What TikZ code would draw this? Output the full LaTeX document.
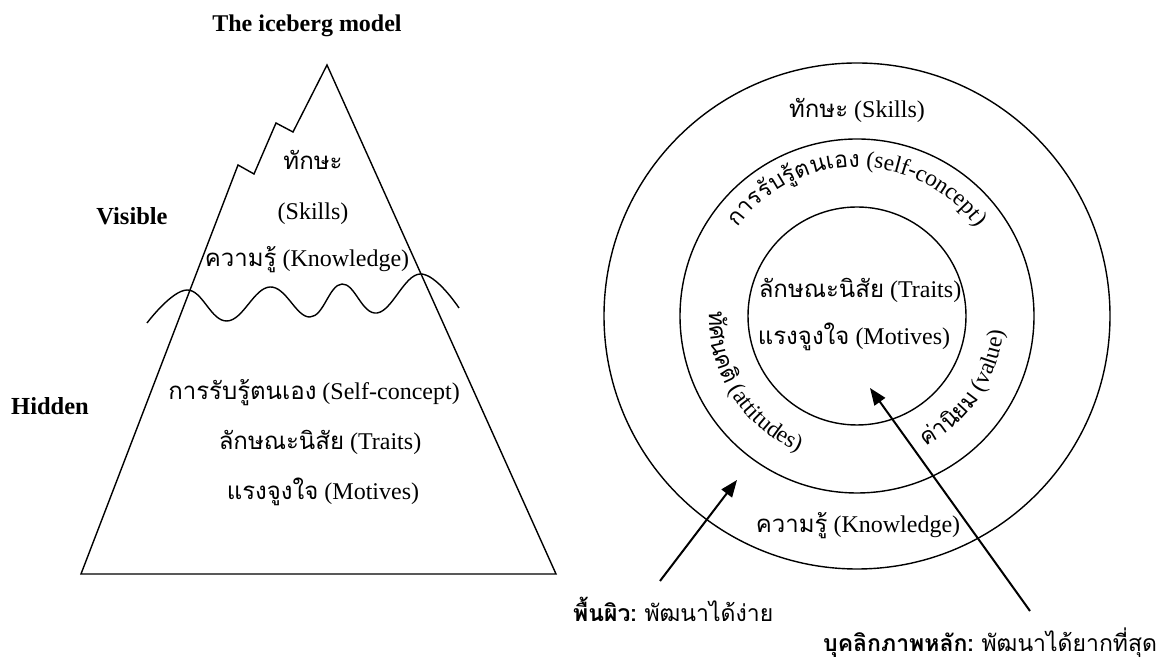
\documentclass[tikz,border=0pt]{standalone}
\usepackage{fontspec}
\setmainfont{Liberation Serif}
\newfontfamily\thai[Script=Thai]{Loma}
\usetikzlibrary{decorations.text, arrows.meta}

% font switches for the curved ring labels
\newcommand\curvethai{\thai\fontsize{23}{27}\selectfont}
\newcommand\curvelatin{\rmfamily\fontsize{23.5}{27}\selectfont}

\begin{document}
\begin{tikzpicture}[x=1pt, y=1pt,
  outline/.style={line width=1.4pt, line join=miter},
  ring/.style={circle, draw, line width=1.4pt, inner sep=0pt},
  lbl/.style={inner sep=0pt, font=\fontsize{24}{28}\selectfont},
  head/.style={inner sep=0pt, font=\bfseries\fontsize{24.5}{28}\selectfont},
  foot/.style={inner sep=0pt, font=\fontsize{23}{27}\selectfont},
  pointer/.style={line width=2pt, -{Triangle[length=17pt, width=13pt]}},
]
\useasboundingbox (0,0) rectangle (1165,663);

% ---------------- iceberg ----------------
\node[head, font=\bfseries\fontsize{24}{28}\selectfont, anchor=base] (title) at (307,631) {The iceberg model};
\node[head, anchor=base] (visible) at (132,438) {Visible};
\node[head, anchor=base] (hidden) at (50,248) {Hidden};

\draw[outline] (81,89) -- (238,498) -- (254,489) -- (276,540) -- (293,531)
  -- (327,598) -- (556,89) -- cycle;
\draw[outline] plot[smooth, tension=0.7] coordinates
  {(147,340) (187,373) (227,342) (270,376) (310,346) (342,379) (377,350) (420,389) (459,355)};

\node[lbl, anchor=base] (ibSkillTh) at (313,493) {\thai ทักษะ};
\node[lbl, anchor=base] (ibSkill) at (313,443) {(Skills)};
\node[lbl, anchor=base] (ibKnow) at (307,396) {{\thai ความรู้} (Knowledge)};
\node[lbl, anchor=base] (ibSelf) at (314,263) {{\thai การรับรู้ตนเอง} (Self-concept)};
\node[lbl, anchor=base] (ibTraits) at (320,213) {{\thai ลักษณะนิสัย} (Traits)};
\node[lbl, anchor=base] (ibMotives) at (323,163) {{\thai แรงจูงใจ} (Motives)};

% ---------------- rings ----------------
\node[ring, minimum size=506pt] (outer) at (857,347) {};
\node[ring, minimum size=354pt] (middle) at (857,347) {};
\node[ring, minimum size=218pt] (inner) at (857,347) {};

\node[lbl, anchor=base] (rSkill) at (857,545) {{\thai ทักษะ} (Skills)};
\node[lbl, anchor=base] (rKnow) at (858,130) {{\thai ความรู้} (Knowledge)};
\node[lbl, anchor=base] (rTraits) at (860,365) {{\thai ลักษณะนิสัย} (Traits)};
\node[lbl, anchor=base] (rMotives) at (854,318) {{\thai แรงจูงใจ} (Motives)};

\path[decorate, decoration={text along path, text align=center,
  text={|\curvethai|{ก}{า}{ร}{รั}{บ}{รู้}{ต}{น}{เ}{อ}{ง}|\curvelatin| (self-concept)}}]
  (middle.center) ++(165:149) arc[start angle=165, end angle=15, radius=149];
\path[decorate, decoration={text along path, text align=center,
  text={|\curvethai|{ทั}{ศ}{น}{ค}{ติ}|\curvelatin| (attitudes)}}]
  (middle.center) ++(145:148) arc[start angle=145, end angle=280, radius=148];
\path[decorate, decoration={text along path, text align=center,
  text={|\curvethai|{ค่}{า}{นิ}{ย}{ม}|\curvelatin| (value)}}]
  (middle.center) ++(262:147) arc[start angle=262, end angle=390, radius=147];

% ---------------- pointers ----------------
\node[foot, anchor=base west] (surface) at (573,41) {{\bfseries\thai พื้นผิว:} {\thai พัฒนาได้ง่าย}};
\node[foot, anchor=base west] (core) at (823,11) {{\bfseries\thai บุคลิกภาพหลัก:} {\thai พัฒนาได้ยากที่สุด}};

\coordinate (surfTail) at (660,82);
\coordinate (surfTip) at (737,183);
\coordinate (coreTail) at (1030,52);
\coordinate (coreTip) at (870,275);
\draw[pointer] (surfTail) -- (surfTip);
\draw[pointer] (coreTail) -- (coreTip);
\end{tikzpicture}
\end{document}
